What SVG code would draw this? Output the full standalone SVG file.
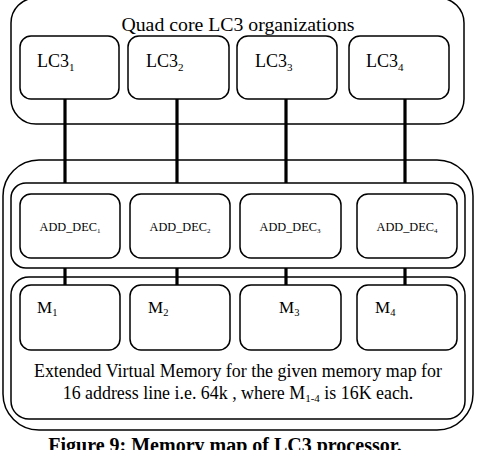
<svg xmlns="http://www.w3.org/2000/svg" width="477" height="450" viewBox="0 0 477 450">
  <style>
    .box { fill: #fff; stroke: #000; stroke-width: 1.5; }
    .frame { fill: none; stroke: #000; stroke-width: 1.5; }
    .bus { stroke: #000; stroke-width: 3.2; fill: none; }
    text { font-family: "Liberation Serif", "Times New Roman", serif; fill: #000; }
    .title { font-size: 19.8px; text-anchor: middle; }
    .lbl { font-size: 18px; }
    .dec { font-size: 12.3px; text-anchor: middle; }
    .mem { font-size: 17px; }
    .note { font-size: 17.9px; text-anchor: middle; }
    .cap { font-size: 20px; font-weight: bold; text-anchor: middle; }
  </style>
  <rect width="477" height="450" fill="#fff"/>

  <!-- processor cluster -->
  <g id="cpu-cluster">
    <rect class="frame" x="11" y="-2" width="453" height="126" rx="25"/>
    <text class="title" x="238" y="31">Quad core LC3 organizations</text>
  </g>
  <g id="lc3-1">
    <rect class="box" x="20" y="36" width="99" height="63" rx="11"/>
    <text class="lbl" x="37" y="67">LC3<tspan font-size="11" dy="4">1</tspan></text>
  </g>
  <g id="lc3-2">
    <rect class="box" x="128" y="36" width="101" height="63" rx="11"/>
    <text class="lbl" x="146" y="67">LC3<tspan font-size="11" dy="4">2</tspan></text>
  </g>
  <g id="lc3-3">
    <rect class="box" x="237" y="36" width="100" height="63" rx="11"/>
    <text class="lbl" x="255" y="67">LC3<tspan font-size="11" dy="4">3</tspan></text>
  </g>
  <g id="lc3-4">
    <rect class="box" x="349" y="36" width="100" height="63" rx="11"/>
    <text class="lbl" x="366" y="67">LC3<tspan font-size="11" dy="4">4</tspan></text>
  </g>

  <!-- memory subsystem frame -->
  <g id="memory-system">
    <rect class="frame" x="3" y="160" width="470" height="270" rx="36"/>
  </g>

  <!-- connectors -->
  <g id="connectors">
    <line class="bus" x1="65" y1="99" x2="65" y2="183"/>
    <line class="bus" x1="177" y1="99" x2="177" y2="183"/>
    <line class="bus" x1="286" y1="99" x2="286" y2="183"/>
    <line class="bus" x1="405" y1="99" x2="405" y2="183"/>
    <line class="bus" x1="65" y1="268" x2="65" y2="285"/>
    <line class="bus" x1="177" y1="268" x2="177" y2="285"/>
    <line class="bus" x1="286" y1="268" x2="286" y2="285"/>
    <line class="bus" x1="405" y1="268" x2="405" y2="285"/>
  </g>

  <!-- address decoders -->
  <g id="decoder-bank">
    <rect class="frame" x="11" y="183" width="454" height="85" rx="15"/>
  </g>
  <g id="add-dec-1">
    <rect class="box" x="20" y="194" width="100" height="64" rx="11"/>
    <text class="dec" x="70" y="231">ADD_DEC<tspan font-size="7" dy="2">1</tspan></text>
  </g>
  <g id="add-dec-2">
    <rect class="box" x="130" y="194" width="100" height="64" rx="11"/>
    <text class="dec" x="180" y="231">ADD_DEC<tspan font-size="7" dy="2">2</tspan></text>
  </g>
  <g id="add-dec-3">
    <rect class="box" x="240" y="194" width="101" height="64" rx="11"/>
    <text class="dec" x="290" y="231">ADD_DEC<tspan font-size="7" dy="2">3</tspan></text>
  </g>
  <g id="add-dec-4">
    <rect class="box" x="357" y="194" width="100" height="64" rx="11"/>
    <text class="dec" x="407" y="231">ADD_DEC<tspan font-size="7" dy="2">4</tspan></text>
  </g>

  <!-- memory banks -->
  <g id="memory-bank">
    <rect class="frame" x="11" y="277" width="454" height="142" rx="18"/>
    <text class="note" x="238" y="377">Extended Virtual Memory for the given memory map for</text>
    <text class="note" x="238" y="399">16 address line i.e. 64k , where M<tspan font-size="11" dy="3">1-4</tspan><tspan dy="-3"> is 16K each.</tspan></text>
  </g>
  <g id="m-1">
    <rect class="box" x="20" y="285" width="100" height="65" rx="11"/>
    <text class="mem" x="37" y="313">M<tspan font-size="10.5" dy="3">1</tspan></text>
  </g>
  <g id="m-2">
    <rect class="box" x="130" y="285" width="100" height="65" rx="11"/>
    <text class="mem" x="148" y="313">M<tspan font-size="10.5" dy="3">2</tspan></text>
  </g>
  <g id="m-3">
    <rect class="box" x="240" y="285" width="101" height="65" rx="11"/>
    <text class="mem" x="279" y="313">M<tspan font-size="10.5" dy="3">3</tspan></text>
  </g>
  <g id="m-4">
    <rect class="box" x="357" y="285" width="100" height="65" rx="11"/>
    <text class="mem" x="375" y="313">M<tspan font-size="10.5" dy="3">4</tspan></text>
  </g>

  <text class="cap" x="225" y="452">Figure 9: Memory map of LC3 processor.</text>
</svg>
